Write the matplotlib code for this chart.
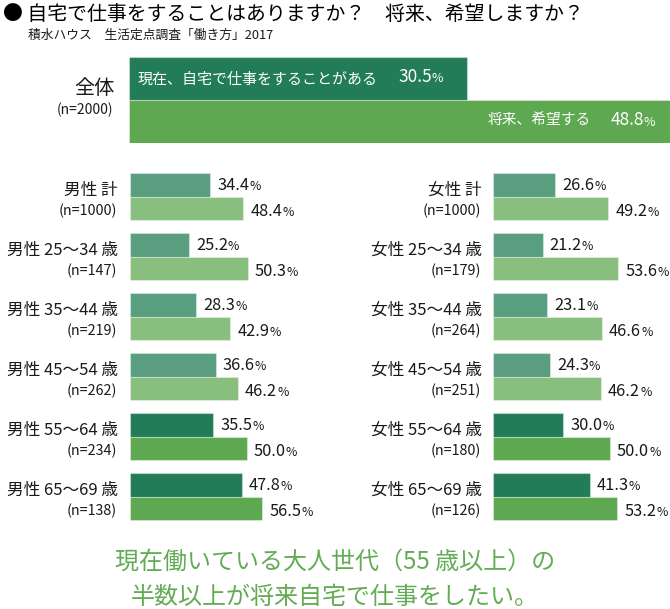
import matplotlib
matplotlib.use("Agg")
import matplotlib.pyplot as plt

plt.rcParams["font.family"] = ["Noto Sans CJK JP", "DejaVu Sans"]

# data
total_n = 2000
total_now = 30.5
total_future = 48.8

men_labels = ["男性 計", "男性 25〜34 歳", "男性 35〜44 歳", "男性 45〜54 歳",
              "男性 55〜64 歳", "男性 65〜69 歳"]
men_n = [1000, 147, 219, 262, 234, 138]
men_now = [34.4, 25.2, 28.3, 36.6, 35.5, 47.8]
men_future = [48.4, 50.3, 42.9, 46.2, 50.0, 56.5]

women_labels = ["女性 計", "女性 25〜34 歳", "女性 35〜44 歳", "女性 45〜54 歳",
                "女性 55〜64 歳", "女性 65〜69 歳"]
women_n = [1000, 179, 264, 251, 180, 126]
women_now = [26.6, 21.2, 23.1, 24.3, 30.0, 41.3]
women_future = [49.2, 53.6, 46.6, 46.2, 50.0, 53.2]

title = "● 自宅で仕事をすることはありますか？　将来、希望しますか？"
source = "積水ハウス　生活定点調査「働き方」2017"
now_text = "現在、自宅で仕事をすることがある"
future_text = "将来、希望する"
message = ["現在働いている大人世代（55 歳以上）の", "半数以上が将来自宅で仕事をしたい。"]

DARK = "#237c58"
MID = "#5fa852"
DARK_SOFT = "#5a9e80"
LIGHT_SOFT = "#88bf7e"
TEXT = "#1a1a1a"
EDGE = (1, 1, 1, 0.35)

W, H = 670, 609
PX = 0.72  # points per pixel at dpi 100

fig = plt.figure(figsize=(W / 100, H / 100), dpi=100)


def px_axes(x, y, w, h):
    ax = fig.add_axes([x / W, 1 - (y + h) / H, w / W, h / H])
    ax.axis("off")
    return ax


def pct_label(ax, x, y, value, dx, dy, size, psize, color, ha="left"):
    t = ax.annotate(f"{value:.1f}", xy=(x, y), xytext=(dx * PX, dy * PX),
                    textcoords="offset points", ha=ha, va="center",
                    fontsize=size, color=color, annotation_clip=False)
    ax.annotate("%", xy=(1, 0), xycoords=t, xytext=(0, 0.6),
                textcoords="offset points", ha="left", va="bottom",
                fontsize=psize, color=color, annotation_clip=False)
    return t


# title block
fig.text(3 / W, 1 - 14 / H, title, fontsize=14.3, va="center", ha="left", color="black")
fig.text(28 / W, 1 - 35 / H, source, fontsize=9.2, va="center", ha="left", color=TEXT)

# overall bar
top = px_axes(129, 57, 541, 86)
top.barh([0], [total_now], height=1, align="edge", color=DARK, edgecolor=EDGE, lw=0.8)
top.barh([1], [total_future], height=1, align="edge", color=MID, edgecolor=EDGE, lw=0.8)
top.set_xlim(0, 541 / 11.09)
top.set_ylim(2, 0)
top.annotate("全体", xy=(0, 1), xytext=(-14 * PX, 12 * PX), textcoords="offset points",
             ha="right", va="center", fontsize=14.5, color=TEXT, annotation_clip=False)
top.annotate(f"(n={total_n})", xy=(0, 1), xytext=(-16 * PX, -10 * PX),
             textcoords="offset points", ha="right", va="center", fontsize=10,
             color=TEXT, annotation_clip=False)
top.annotate(now_text, xy=(0, 0.5), xytext=(9 * PX, -1.5 * PX), textcoords="offset points",
             ha="left", va="center", fontsize=10.8, color="white")
p = top.annotate("%", xy=(total_now, 0.5), xytext=(-24 * PX, -7 * PX),
                 textcoords="offset points", ha="right", va="bottom", fontsize=9,
                 color="white")
top.annotate(f"{total_now:.1f}", xy=(0, 0), xycoords=p, xytext=(0, -0.6),
             textcoords="offset points", ha="right", va="bottom", fontsize=12.5,
             color="white")
p = top.annotate("%", xy=(total_future, 1.5), xytext=(-15 * PX, -7 * PX),
                 textcoords="offset points", ha="right", va="bottom", fontsize=9,
                 color="white", annotation_clip=False)
n = top.annotate(f"{total_future:.1f}", xy=(0, 0), xycoords=p, xytext=(0, -0.6),
                 textcoords="offset points", ha="right", va="bottom", fontsize=12.5,
                 color="white")
top.annotate(future_text, xy=(0, 0.5), xycoords=n, xytext=(-19 * PX, 0),
             textcoords="offset points", ha="right", va="center", fontsize=10.6,
             color="white")


def group_panel(x0, width, labels, ns, now, future, label_dx):
    ax = px_axes(x0, 167, width, 360)
    for i in range(len(labels)):
        dark, light = (DARK_SOFT, LIGHT_SOFT) if i < 4 else (DARK, MID)
        ax.barh(i - 0.2, now[i], height=0.4, color=dark, edgecolor=EDGE, lw=0.8)
        ax.barh(i + 0.19, future[i], height=0.39, color=light, edgecolor=EDGE, lw=0.8)
        ax.annotate(labels[i], xy=(0, i), xytext=(label_dx * PX, 7 * PX),
                    textcoords="offset points", ha="right", va="center",
                    fontsize=12, color=TEXT, annotation_clip=False)
        ax.annotate(f"(n={ns[i]})", xy=(0, i), xytext=((label_dx - 1) * PX, -14 * PX),
                    textcoords="offset points", ha="right", va="center",
                    fontsize=10.3, color=TEXT, annotation_clip=False)
        pct_label(ax, now[i], i - 0.2, now[i], 7, 0, 11.8, 8.8, TEXT)
        pct_label(ax, future[i], i + 0.19, future[i], 7, -3, 11.8, 8.8, TEXT)
    ax.set_xlim(0, width / 2.34)
    ax.set_ylim(5.5, -0.5)
    return ax


group_panel(130, 200, men_labels, men_n, men_now, men_future, -12)
group_panel(493, 177, women_labels, women_n, women_now, women_future, -11)

# closing message
for k, line in enumerate(message):
    fig.text(335 / W, 1 - (562 + 35 * k) / H, line, fontsize=17.3, ha="center",
             va="center", color="#64ab55")

fig.savefig("out.png", dpi=100)
